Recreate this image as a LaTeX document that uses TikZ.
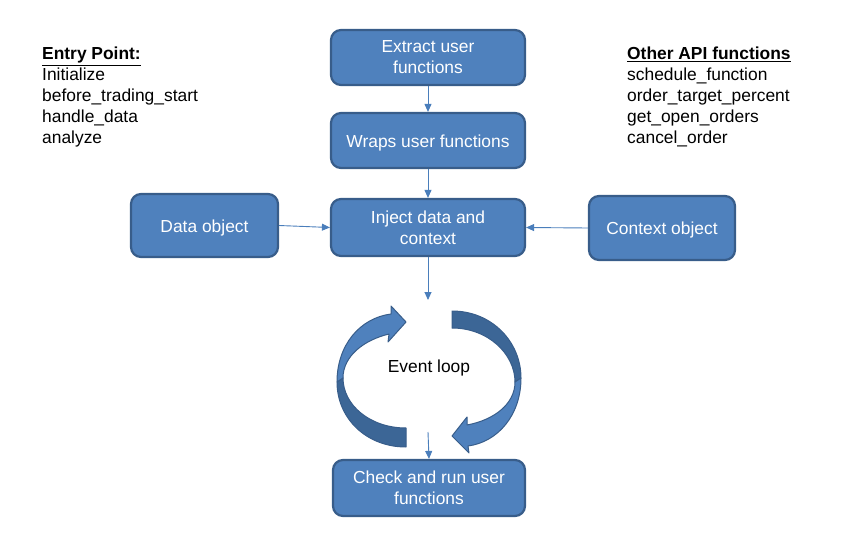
\documentclass[tikz,border=0pt]{standalone}
\usepackage{fontspec}
\setmainfont{Liberation Sans}
\usetikzlibrary{arrows.meta}
\definecolor{boxfill}{HTML}{4F81BD}
\definecolor{boxline}{HTML}{385D8A}
\definecolor{arrowc}{HTML}{4A7EBB}
\definecolor{darkface}{HTML}{3C6696}
\begin{document}
\begin{tikzpicture}[x=1pt,y=-1pt,
  box/.style={draw=boxline,fill=boxfill,line width=2.2pt,rounded corners=10pt,
    text=white,align=center,inner sep=0pt,font=\fontsize{17.4}{21}\selectfont},
  oneline/.style={text height=14pt,text depth=0pt},
  conn/.style={draw=arrowc,line width=0.9pt,-{Triangle[length=8pt,width=7pt]}},
  lbl/.style={anchor=base west,inner sep=0pt,font=\fontsize{17.4}{21}\selectfont},
  loopa/.style={fill=boxfill,draw=boxline,line width=1pt,line join=round},
  loopb/.style={fill=darkface,draw=boxline,line width=1pt,line join=round}]
\useasboundingbox (0,0) rectangle (841,540);

\node[box,minimum width=194pt,minimum height=55pt] (extract) at (428,57.5) {Extract user\\functions};
\node[box,oneline,minimum width=194pt,minimum height=55pt] (wraps) at (428,140.5) {Wraps user functions};
\node[box,minimum width=194pt,minimum height=57pt] (inject) at (428,227.5) {Inject data and\\context};
\node[box,oneline,minimum width=147pt,minimum height=63pt] (data) at (204.5,225.5) {Data object};
\node[box,oneline,minimum width=146pt,minimum height=64pt] (context) at (662,228) {Context object};
\node[box,minimum width=192pt,minimum height=56pt] (check) at (429,488) {Check and run user\\functions};

\coordinate (loopin) at (428,300);
\coordinate (loopout) at (428,432);

\draw[conn] (extract) -- (wraps);
\draw[conn] (wraps) -- (inject);
\draw[conn] (data.east) -- (inject.west);
\draw[conn] (context.west) -- (inject.east);
\draw[conn] (inject.south) -- (loopin);
\draw[conn] (loopout) -- (check.north);

% left curved arrow (upper lighter part with head, lower darker part with tail)
\path[loopb] (406,447) .. controls (366,447) and (337,418) .. (337,382)
  -- (343,378) .. controls (343,405) and (370,428) .. (406,428) -- cycle;
\path[loopa] (337,382) .. controls (337,345) and (360,318) .. (391,314)
  -- (391,306) -- (406,322) -- (388,342) -- (389,334)
  .. controls (364,340) and (343,356) .. (343,378) -- cycle;

% right curved arrow (upper darker part with tail, lower lighter part with head)
\path[loopb] (452,311) .. controls (492,311) and (521,342) .. (521,378)
  -- (515,382) .. controls (515,354) and (488,328) .. (452,328) -- cycle;
\path[loopa] (521,378) .. controls (521,415) and (498,442) .. (468,446)
  -- (469,453) -- (452,436) -- (467,417) -- (467,425)
  .. controls (494,420) and (515,404) .. (515,382) -- cycle;

\node[inner sep=0pt,font=\fontsize{17.4}{21}\selectfont] (evloop) at (429,368) {Event loop};

\node[lbl] (ep0) at (42,60) {\textbf{\underline{Entry Point:}}};
\node[lbl] (ep1) at (42,81) {Initialize};
\node[lbl] (ep2) at (42,102) {before\_trading\_start};
\node[lbl] (ep3) at (42,123) {handle\_data};
\node[lbl] (ep4) at (42,144) {analyze};

\node[lbl] (api0) at (627,60) {\textbf{\underline{Other API functions}}};
\node[lbl] (api1) at (627,81) {schedule\_function};
\node[lbl] (api2) at (627,102) {order\_target\_percent};
\node[lbl] (api3) at (627,123) {get\_open\_orders};
\node[lbl] (api4) at (627,144) {cancel\_order};
\end{tikzpicture}
\end{document}
